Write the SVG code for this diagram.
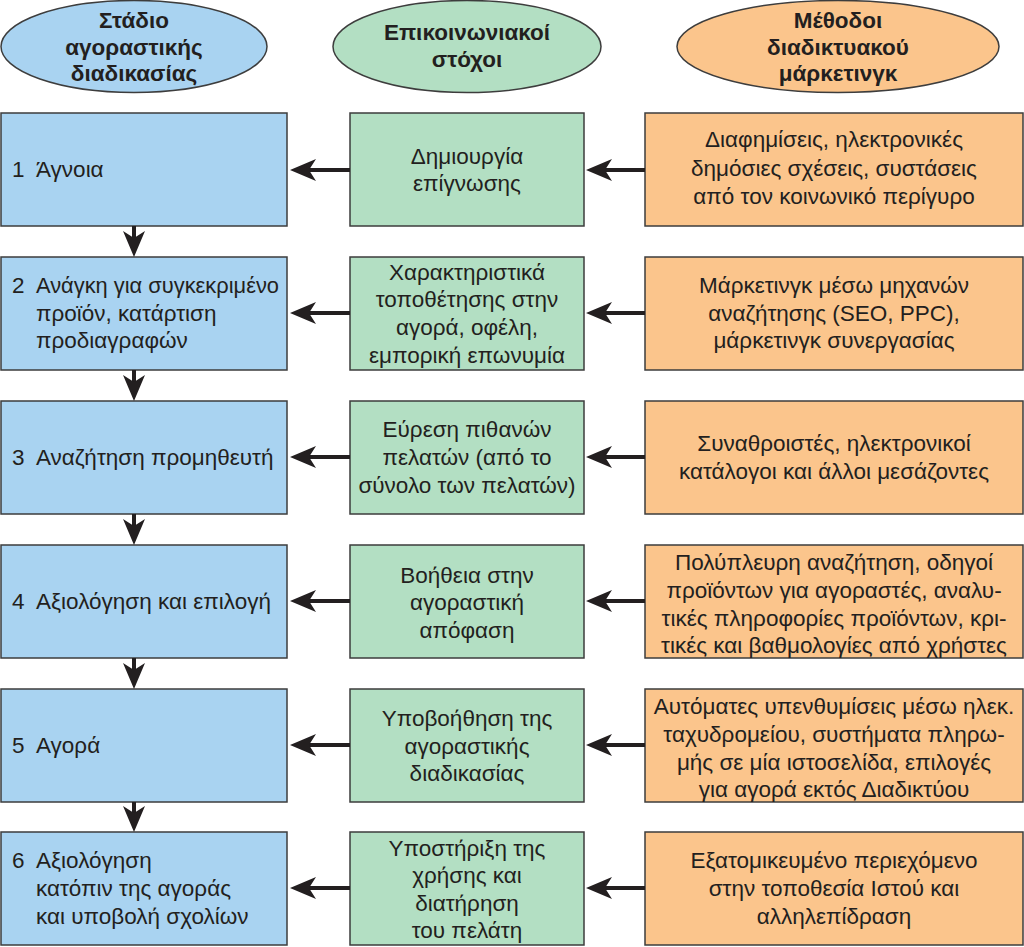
<svg xmlns="http://www.w3.org/2000/svg" width="1024" height="947" viewBox="0 0 1024 947">
<style>
text{dominant-baseline:central}
.h{font-weight:bold;text-anchor:middle}
.c{text-anchor:middle}
.b{fill:#a9d3f1;stroke:#3d3d3d;stroke-width:1.5}
.g{fill:#b3dfc3;stroke:#3d3d3d;stroke-width:1.5}
.o{fill:#fbc58c;stroke:#3d3d3d;stroke-width:1.5}
.a{stroke:#231f20;stroke-width:4;fill:none;marker-end:url(#ah)}
</style>
<defs>
<marker id="ah" markerUnits="userSpaceOnUse" viewBox="0 0 26 22" markerWidth="26" markerHeight="22" refX="7" refY="11" orient="auto">
<path d="M0,0 L26,11 L0,22 L7,11 Z" fill="#231f20"/>
</marker>
</defs>
<rect width="1024" height="947" fill="#fff"/>
<g font-family="Liberation Sans, Arial, sans-serif" font-size="22.5" fill="#231f20">
<g id="header-stage">
<ellipse class="b" cx="134" cy="46.5" rx="133" ry="46"/>
<text class="h" x="134" y="20">Στάδιο</text>
<text class="h" x="134" y="47">αγοραστικής</text>
<text class="h" x="134" y="73">διαδικασίας</text>
</g>
<g id="header-goals">
<ellipse class="g" cx="467" cy="46.5" rx="134" ry="46"/>
<text class="h" x="467" y="32">Επικοινωνιακοί</text>
<text class="h" x="467" y="59">στόχοι</text>
</g>
<g id="header-methods">
<ellipse class="o" cx="838" cy="46.5" rx="161" ry="46"/>
<text class="h" x="838" y="20">Μέθοδοι</text>
<text class="h" x="838" y="47">διαδικτυακού</text>
<text class="h" x="838" y="73">μάρκετινγκ</text>
</g>

<g id="stage1"><rect class="b" x="1" y="113" width="286" height="113"/><text y="169"><tspan x="12">1</tspan><tspan x="36">Άγνοια</tspan></text></g>
<g id="stage2"><rect class="b" x="1" y="257" width="286" height="113"/>
<text y="285"><tspan x="12">2</tspan><tspan x="36" textLength="243" lengthAdjust="spacingAndGlyphs">Ανάγκη για συγκεκριμένο</tspan></text><text x="36" y="313">προϊόν, κατάρτιση</text><text x="36" y="340">προδιαγραφών</text></g>
<g id="stage3"><rect class="b" x="1" y="401" width="286" height="113"/><text y="457"><tspan x="12">3</tspan><tspan x="36">Αναζήτηση προμηθευτή</tspan></text></g>
<g id="stage4"><rect class="b" x="1" y="545" width="286" height="113"/><text y="601"><tspan x="12">4</tspan><tspan x="36">Αξιολόγηση και επιλογή</tspan></text></g>
<g id="stage5"><rect class="b" x="1" y="689" width="286" height="113"/><text y="745"><tspan x="12">5</tspan><tspan x="36">Αγορά</tspan></text></g>
<g id="stage6"><rect class="b" x="1" y="832" width="286" height="113"/>
<text y="860"><tspan x="12">6</tspan><tspan x="36">Αξιολόγηση</tspan></text><text x="36" y="888">κατόπιν της αγοράς</text><text x="36" y="916">και υποβολή σχολίων</text></g>

<g id="goal1"><rect class="g" x="350" y="113" width="234" height="113"/>
<text class="c" x="467" y="156">Δημιουργία</text><text class="c" x="467" y="183">επίγνωσης</text></g>
<g id="goal2"><rect class="g" x="350" y="257" width="234" height="113"/>
<text class="c" x="467" y="272">Χαρακτηριστικά</text><text class="c" x="467" y="299">τοποθέτησης στην</text><text class="c" x="467" y="327">αγορά, οφέλη,</text><text class="c" x="467" y="355">εμπορική επωνυμία</text></g>
<g id="goal3"><rect class="g" x="350" y="401" width="234" height="113"/>
<text class="c" x="467" y="429">Εύρεση πιθανών</text><text class="c" x="467" y="457">πελατών (από το</text><text class="c" x="467" y="485">σύνολο των πελατών)</text></g>
<g id="goal4"><rect class="g" x="350" y="545" width="234" height="113"/>
<text class="c" x="467" y="575">Βοήθεια στην</text><text class="c" x="467" y="602">αγοραστική</text><text class="c" x="467" y="630">απόφαση</text></g>
<g id="goal5"><rect class="g" x="350" y="689" width="234" height="113"/>
<text class="c" x="467" y="718">Υποβοήθηση της</text><text class="c" x="467" y="746">αγοραστικής</text><text class="c" x="467" y="773">διαδικασίας</text></g>
<g id="goal6"><rect class="g" x="350" y="832" width="234" height="113"/>
<text class="c" x="467" y="848">Υποστήριξη της</text><text class="c" x="467" y="875">χρήσης και</text><text class="c" x="467" y="903">διατήρηση</text><text class="c" x="467" y="930">του πελάτη</text></g>

<g id="method1"><rect class="o" x="645" y="113" width="378" height="113"/>
<text class="c" x="834" y="139">Διαφημίσεις, ηλεκτρονικές</text><text class="c" x="834" y="168">δημόσιες σχέσεις, συστάσεις</text><text class="c" x="834" y="196">από τον κοινωνικό περίγυρο</text></g>
<g id="method2"><rect class="o" x="645" y="257" width="378" height="113"/>
<text class="c" x="834" y="285">Μάρκετινγκ μέσω μηχανών</text><text class="c" x="834" y="313">αναζήτησης (SEO, PPC),</text><text class="c" x="834" y="340">μάρκετινγκ συνεργασίας</text></g>
<g id="method3"><rect class="o" x="645" y="401" width="378" height="113"/>
<text class="c" x="834" y="443">Συναθροιστές, ηλεκτρονικοί</text><text class="c" x="834" y="471">κατάλογοι και άλλοι μεσάζοντες</text></g>
<g id="method4"><rect class="o" x="645" y="545" width="378" height="113"/>
<text class="c" x="834" y="562">Πολύπλευρη αναζήτηση, οδηγοί</text><text class="c" x="834" y="590">προϊόντων για αγοραστές, αναλυ-</text><text class="c" x="834" y="618">τικές πληροφορίες προϊόντων, κρι-</text><text class="c" x="834" y="645">τικές και βαθμολογίες από χρήστες</text></g>
<g id="method5"><rect class="o" x="645" y="689" width="378" height="113"/>
<text class="c" x="834" y="706">Αυτόματες υπενθυμίσεις μέσω ηλεκ.</text><text class="c" x="834" y="734">ταχυδρομείου, συστήματα πληρω-</text><text class="c" x="834" y="762">μής σε μία ιστοσελίδα, επιλογές</text><text class="c" x="834" y="789">για αγορά εκτός Διαδικτύου</text></g>
<g id="method6"><rect class="o" x="645" y="832" width="378" height="113"/>
<text class="c" x="834" y="860">Εξατομικευμένο περιεχόμενο</text><text class="c" x="834" y="888">στην τοποθεσία Ιστού και</text><text class="c" x="834" y="916">αλληλεπίδραση</text></g>
</g>
<g id="connectors">
<line class="a" x1="134" y1="226" x2="134" y2="238"/>
<line class="a" x1="134" y1="370" x2="134" y2="382"/>
<line class="a" x1="134" y1="514" x2="134" y2="526"/>
<line class="a" x1="134" y1="658" x2="134" y2="670"/>
<line class="a" x1="134" y1="802" x2="134" y2="813"/>
<line class="a" x1="350" y1="170" x2="309" y2="170"/>
<line class="a" x1="350" y1="313" x2="309" y2="313"/>
<line class="a" x1="350" y1="457" x2="309" y2="457"/>
<line class="a" x1="350" y1="601" x2="309" y2="601"/>
<line class="a" x1="350" y1="745" x2="309" y2="745"/>
<line class="a" x1="350" y1="888" x2="309" y2="888"/>
<line class="a" x1="645" y1="170" x2="605" y2="170"/>
<line class="a" x1="645" y1="313" x2="605" y2="313"/>
<line class="a" x1="645" y1="457" x2="605" y2="457"/>
<line class="a" x1="645" y1="601" x2="605" y2="601"/>
<line class="a" x1="645" y1="745" x2="605" y2="745"/>
<line class="a" x1="645" y1="888" x2="605" y2="888"/>
</g>
</svg>
